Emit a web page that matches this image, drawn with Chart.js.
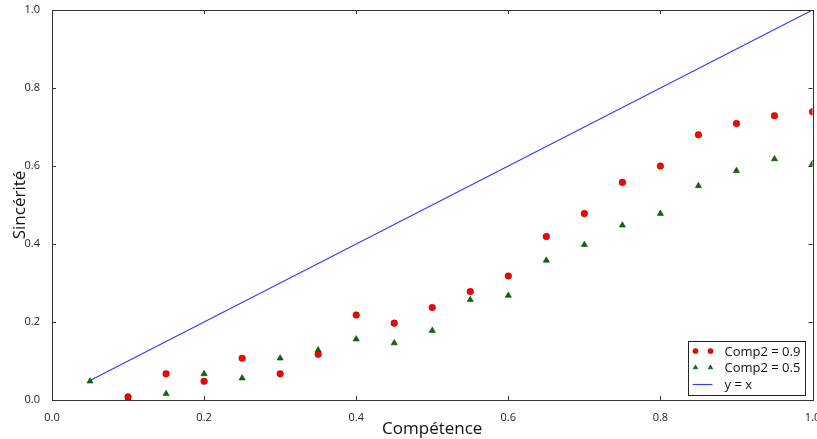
<!DOCTYPE html>
<html>
<head>
<meta charset="utf-8">
<script src="https://cdn.jsdelivr.net/npm/chart.js@4.4.1/dist/chart.umd.min.js"></script>
<style>
  html, body { margin: 0; padding: 0; background: #fff; overflow: hidden; }
  canvas { display: block; }
</style>
</head>
<body>
<canvas id="chart" width="817" height="439"></canvas>
<script>
// donnees
const competence = [0.05, 0.1, 0.15, 0.2, 0.25, 0.3, 0.35, 0.4, 0.45, 0.5, 0.55, 0.6, 0.65, 0.7, 0.75, 0.8, 0.85, 0.9, 0.95, 1.0];
const sincerite09 = [null, 0.008, 0.067, 0.048, 0.107, 0.067, 0.117, 0.218, 0.197, 0.237, 0.278, 0.318, 0.419, 0.478, 0.558, 0.600, 0.680, 0.709, 0.729, 0.739];
const sincerite05 = [0.048, 0.003, 0.016, 0.067, 0.056, 0.107, 0.128, 0.156, 0.146, 0.178, 0.257, 0.268, 0.358, 0.398, 0.448, 0.478, 0.549, 0.588, 0.618, 0.606];
const diagX = [0.05, 1.0];
const tickValues = [0, 0.2, 0.4, 0.6, 0.8, 1.0];

const FONT = '"Open Sans", "DejaVu Sans", sans-serif';

function toPoints(xs, ys) {
    const pts = [];
    xs.forEach((x, i) => { if (ys[i] !== null) pts.push({ x: x, y: ys[i] }); });
    return pts;
}

// cadre + ticks vers l'interieur (style matplotlib)
const frame = {
    id: 'frame',
    afterDatasetsDraw(chart) {
        const { ctx, chartArea: a, scales } = chart;
        ctx.save();
        ctx.strokeStyle = '#333';
        ctx.lineWidth = 1;
        ctx.beginPath();
        tickValues.forEach(v => {
            const px = Math.round(scales.x.getPixelForValue(v)) + 0.5;
            ctx.moveTo(px, a.bottom); ctx.lineTo(px, a.bottom - 4);
            ctx.moveTo(px, a.top); ctx.lineTo(px, a.top + 4);
            const py = Math.round(scales.y.getPixelForValue(v)) + 0.5;
            ctx.moveTo(a.left, py); ctx.lineTo(a.left + 4, py);
            ctx.moveTo(a.right, py); ctx.lineTo(a.right - 4, py);
        });
        ctx.stroke();
        ctx.strokeRect(Math.round(a.left) + 0.5, Math.round(a.top) + 0.5,
            Math.round(a.right - a.left), Math.round(a.bottom - a.top));
        ctx.restore();
    }
};

// legende dans le coin bas droit
const legendBox = {
    id: 'legendBox',
    afterDraw(chart) {
        const { ctx, chartArea: a } = chart;
        const w = 117, h = 54;
        const x0 = a.right - 8 - w, y0 = a.bottom - 5 - h;
        ctx.save();
        ctx.fillStyle = '#fff';
        ctx.fillRect(x0, y0, w, h);
        ctx.strokeStyle = '#222';
        ctx.lineWidth = 1;
        ctx.strokeRect(Math.round(x0) + 0.5, Math.round(y0) + 0.5, w, h);
        ctx.font = '13px ' + FONT;
        ctx.textBaseline = 'middle';
        chart.data.datasets.forEach((ds, i) => {
            const yy = y0 + 10 + i * 16.5;
            if (ds.showLine) {
                ctx.strokeStyle = ds.borderColor;
                ctx.lineWidth = ds.borderWidth;
                ctx.beginPath();
                ctx.moveTo(x0 + 5, yy + 0.5); ctx.lineTo(x0 + 25, yy + 0.5);
                ctx.stroke();
            } else {
                [x0 + 8, x0 + 23].forEach(mx => {
                    ctx.fillStyle = ds.pointBackgroundColor;
                    ctx.strokeStyle = ds.pointBorderColor;
                    ctx.lineWidth = 0.5;
                    Chart.helpers.drawPoint(ctx, {
                        pointStyle: ds.pointStyle, radius: 2.6, rotation: 0,
                        borderWidth: 0.5
                    }, mx, yy);
                });
            }
            ctx.fillStyle = '#111';
            ctx.fillText(ds.label, x0 + 37, yy + 1);
        });
        ctx.restore();
    }
};

const ctx = document.getElementById('chart').getContext('2d');
new Chart(ctx, {
    type: 'scatter',
    data: {
        datasets: [{
            label: 'Comp2 = 0.9',
            data: toPoints(competence, sincerite09),
            pointStyle: 'circle',
            pointRadius: 3.3,
            pointBackgroundColor: '#ff0000',
            pointBorderColor: '#7a0000',
            pointBorderWidth: 0.5,
            clip: 0
        }, {
            label: 'Comp2 = 0.5',
            data: toPoints(competence, sincerite05),
            pointStyle: 'triangle',
            pointRadius: 3.6,
            pointBackgroundColor: '#007000',
            pointBorderColor: '#003300',
            pointBorderWidth: 0.5,
            clip: 0
        }, {
            label: 'y = x',
            data: diagX.map(v => ({ x: v, y: v })),
            showLine: true,
            borderColor: '#3636ff',
            borderWidth: 1.1,
            pointRadius: 0,
            clip: 0
        }]
    },
    options: {
        responsive: false,
        animation: false,
        // -1 : chart.js ajoute ~3px a droite, on compense pour finir a x=815
        layout: { padding: { top: 10, right: -1, left: 0, bottom: 0 } },
        plugins: { legend: { display: false }, tooltip: { enabled: false } },
        scales: {
            x: {
                type: 'linear', min: 0, max: 1,
                afterBuildTicks: s => { s.ticks = tickValues.map(v => ({ value: v })); },
                afterFit: s => { s.height = 39; s.paddingLeft = 0; s.paddingRight = 0; },
                grid: { display: false },
                border: { display: false },
                ticks: {
                    maxRotation: 0, padding: 3, color: '#222',
                    font: { family: FONT, size: 11 },
                    callback: v => Number(v).toFixed(1)
                },
                title: {
                    display: true, text: 'Compétence', color: '#111',
                    font: { family: FONT, size: 17 }, padding: { top: 1, bottom: 0 }
                }
            },
            y: {
                type: 'linear', min: 0, max: 1,
                afterBuildTicks: s => { s.ticks = tickValues.map(v => ({ value: v })); },
                afterFit: s => { s.width = 52; s.paddingTop = 0; s.paddingBottom = 0; },
                grid: { display: false },
                border: { display: false },
                ticks: {
                    padding: 4, color: '#222',
                    font: { family: FONT, size: 11 },
                    callback: v => Number(v).toFixed(1)
                },
                title: {
                    display: true, text: 'Sincérité', color: '#111',
                    font: { family: FONT, size: 17 }, padding: { top: 10, bottom: 0 }
                }
            }
        }
    },
    plugins: [frame, legendBox]
});
</script>
</body>
</html>
